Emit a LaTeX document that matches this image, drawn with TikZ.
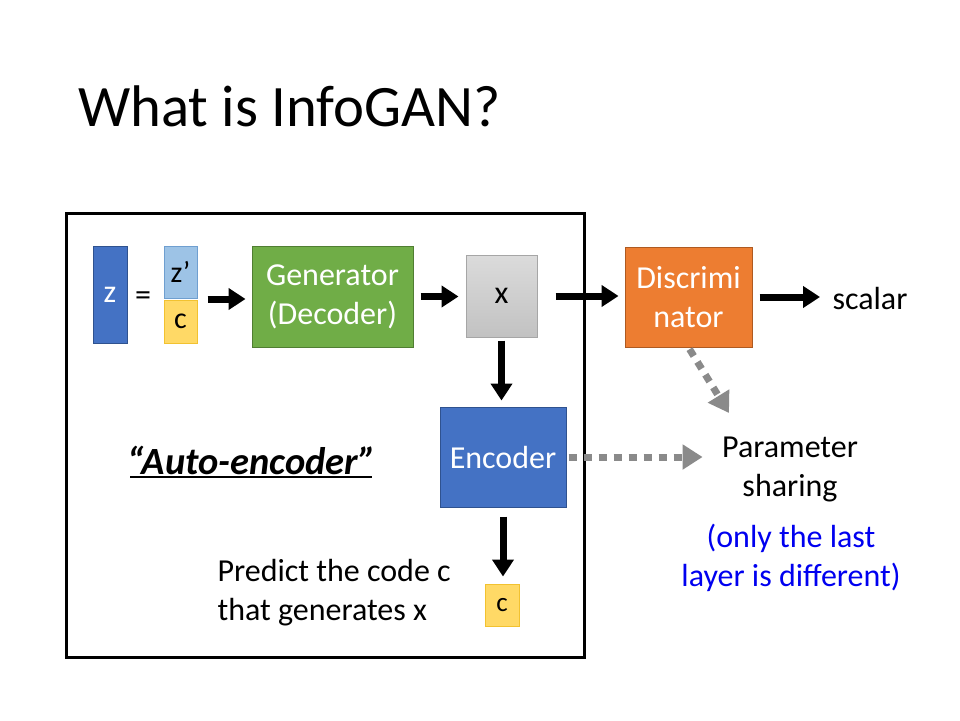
\documentclass[tikz,border=0pt]{standalone}
\usepackage{fontspec}
\setmainfont{Carlito}
\usetikzlibrary{arrows.meta,calc}

\definecolor{boxblue}{HTML}{4472C4}
\definecolor{bluedark}{HTML}{2F528F}
\definecolor{lightblue}{HTML}{9DC3E6}
\definecolor{lbdark}{HTML}{6F9FD0}
\definecolor{codeyellow}{HTML}{FFD966}
\definecolor{codeborder}{HTML}{F2C230}
\definecolor{gengreen}{HTML}{70AD47}
\definecolor{greendark}{HTML}{507E32}
\definecolor{discorange}{HTML}{ED7D31}
\definecolor{orangedark}{HTML}{AE5A21}
\definecolor{sharegray}{HTML}{8A8A8A}
\definecolor{noteblue}{HTML}{0000F0}

\begin{document}
\begin{tikzpicture}[x=1pt,y=-1pt,
  body/.style={font=\fontsize{32}{39}\selectfont},
  block/.style={draw, line width=1pt, rectangle, inner sep=0pt, body, align=center},
  flow/.style={line width=7pt, -{Triangle[length=17pt,width=21pt]}},
  share/.style={line width=7pt, draw=sharegray, dash pattern=on 8pt off 7pt,
    -{Triangle[length=20pt,width=24pt,fill=sharegray]}}
]
\useasboundingbox (0,0) rectangle (960,720);
\fill[white] (0,0) rectangle (960,720);

% title
\node[anchor=base west, inner sep=0pt, font=\fontsize{58.7}{70}\selectfont] (title) at (78,126) {What is InfoGAN?};

% auto-encoder frame
\draw[line width=3pt] (66,213) rectangle (584,657);

% input code z = (z', c)
\node[block, fill=boxblue, draw=bluedark, text=white, minimum width=34pt, minimum height=97pt] (z) at (110,294.5) {z};
\node[body] (eq) at (143,299) {=};
\node[block, fill=lightblue, draw=lbdark, minimum width=33pt, minimum height=52pt,
  font=\fontsize{30}{34}\selectfont] (zp) at (180.5,272) {z’};
\node[block, fill=codeyellow, draw=codeborder, minimum width=33pt, minimum height=43pt,
  font=\fontsize{30}{34}\selectfont] (cin) at (180.5,321.5) {c};
\coordinate (stack) at ($(zp.south east)!0.5!(cin.north east)$);

% blocks
\node[block, fill=gengreen, draw=greendark, text=white, minimum width=161pt, minimum height=101pt] (gen) at (332.5,296.5) {Generator\\(Decoder)};
\node[block, top color=black!14, bottom color=black!24, draw=black!35, minimum width=71pt, minimum height=82pt] (x) at (501.5,296) {x};
\node[block, fill=discorange, draw=orangedark, text=white, minimum width=127pt, minimum height=100pt] (disc) at (688.5,297) {Discrimi\\nator};
\node[block, fill=boxblue, draw=bluedark, text=white, minimum width=126pt, minimum height=100pt] (enc) at (503,457) {Encoder};
\node[block, fill=codeyellow, draw=codeborder, minimum width=34pt, minimum height=42pt,
  font=\fontsize{27}{30}\selectfont] (cout) at (502,605) {c};

% labels
\node[body, anchor=west] (scalar) at (829,299) {scalar};
\node[body, align=center] (param) at (790,469) {Parameter\\sharing};
\node[body, align=center, text=noteblue] (note) at (791,558) {(only the last\\layer is different)};
\node[body, align=left, anchor=west] (predict) at (214,593) {Predict the code c\\that generates x};
\node[font=\fontsize{38.5}{44}\selectfont\bfseries\itshape, inner sep=0pt] (ae) at (252,460) {“Auto-encoder”};
\draw[line width=1.5pt] (130,477) -- (372,477);
\coordinate (ptip) at (729,413);

% connectors
\draw[flow, shorten <=10pt, shorten >=6pt] (stack) -- (stack -| gen.west);
\draw[flow, shorten <=7pt, shorten >=7pt] (gen.east) -- (gen.east -| x.west);
\draw[flow, shorten <=18pt, shorten >=6pt] (x.east) -- (x.east -| disc.west);
\draw[flow, shorten <=7pt, shorten >=9pt] (disc.east) -- (disc.east -| scalar.west);
\draw[flow, shorten <=3pt, shorten >=6pt] (x.south) -- (x.south |- enc.north);
\draw[flow, shorten <=9pt, shorten >=7pt] (enc.south) -- (enc.south |- cout.north);
\draw[share, shorten <=2pt, shorten >=16pt] (enc.east) -- (enc.east -| param.west);
\draw[share, shorten <=2pt] (disc.south) -- (ptip);
\end{tikzpicture}
\end{document}
